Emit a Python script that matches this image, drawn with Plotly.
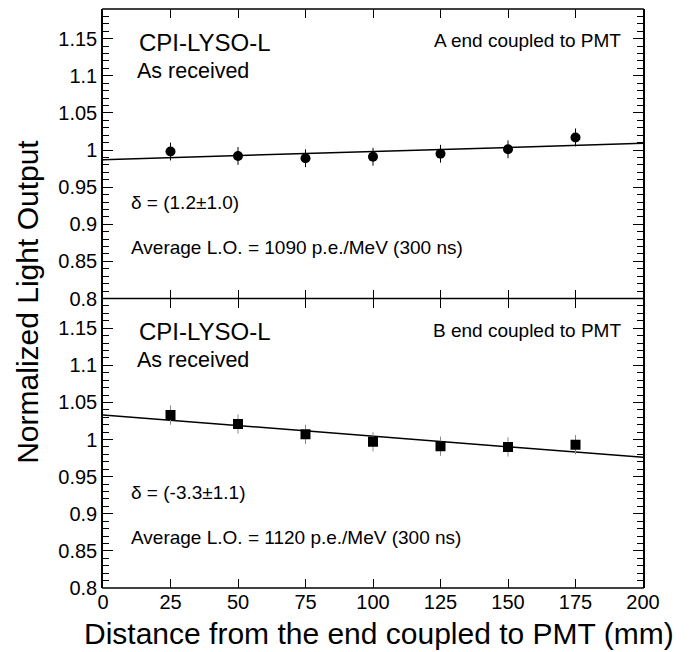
import plotly.graph_objects as go
from plotly.subplots import make_subplots

# Scan positions along the crystal (mm)
distance = [25, 50, 75, 100, 125, 150, 175]

# A end coupled to PMT
lo_a = [0.998, 0.992, 0.989, 0.991, 0.995, 1.001, 1.017]
err_a = [0.012, 0.012, 0.012, 0.012, 0.012, 0.012, 0.012]
fit_x = [0, 200]
fit_a = [0.987, 1.009]

# B end coupled to PMT
lo_b = [1.033, 1.021, 1.007, 0.997, 0.991, 0.990, 0.993]
err_b = [0.013, 0.013, 0.013, 0.013, 0.013, 0.013, 0.013]
fit_b = [1.033, 0.976]

y_ticks = [0.8, 0.85, 0.9, 0.95, 1.0, 1.05, 1.1, 1.15]
y_tick_text = ["0.8", "0.85", "0.9", "0.95", "1", "1.05", "1.1", "1.15"]
x_ticks = [0, 25, 50, 75, 100, 125, 150, 175, 200]

FONT = "Arial, Liberation Sans, sans-serif"

fig = make_subplots(rows=2, cols=1, shared_xaxes=True, vertical_spacing=0)

# Top panel
fig.add_trace(go.Scatter(x=fit_x, y=fit_a, mode="lines",
                         line=dict(color="black", width=1.5),
                         showlegend=False), row=1, col=1)
fig.add_trace(go.Scatter(x=distance, y=lo_a, mode="markers",
                         marker=dict(symbol="circle", size=10, color="black"),
                         error_y=dict(type="data", array=err_a, width=0,
                                      color="black", thickness=1),
                         showlegend=False), row=1, col=1)

# Bottom panel
fig.add_trace(go.Scatter(x=fit_x, y=fit_b, mode="lines",
                         line=dict(color="black", width=1.5),
                         showlegend=False), row=2, col=1)
fig.add_trace(go.Scatter(x=distance, y=lo_b, mode="markers",
                         marker=dict(symbol="square", size=10, color="black"),
                         error_y=dict(type="data", array=err_b, width=0,
                                      color="#8a8a8a", thickness=1),
                         showlegend=False), row=2, col=1)

for r in (1, 2):
    fig.update_xaxes(range=[0, 200], tickvals=x_ticks, ticklen=9, tickwidth=1,
                     ticks="inside", tickcolor="black", mirror="ticks",
                     showline=False, showgrid=False, zeroline=False,
                     tickfont=dict(family=FONT, size=20, color="black"),
                     showticklabels=(r == 2), row=r, col=1)
    fig.update_yaxes(range=[0.8, 1.19], tickvals=y_ticks, ticktext=y_tick_text,
                     ticklen=10, tickwidth=1, ticks="inside", tickcolor="black",
                     showline=True, linecolor="black", linewidth=1.5,
                     mirror="ticks", showgrid=False, zeroline=False,
                     tickfont=dict(family=FONT, size=20, color="black"),
                     minor=dict(dtick=0.01, ticks="inside", ticklen=6,
                                tickcolor="black", tickwidth=1, tick0=0.8),
                     row=r, col=1)

# Horizontal frame edges: top, shared middle, bottom
for yv in (0, 0.5, 1):
    fig.add_shape(type="line", xref="paper", yref="paper",
                  x0=-0.0015, x1=1.0015, y0=yv, y1=yv,
                  line=dict(color="black", width=1.5))

panel_text = [
    ("x", "y", "A end coupled to PMT", "δ = (1.2±1.0)",
     "Average L.O. = 1090 p.e./MeV (300 ns)"),
    ("x2", "y2", "B end coupled to PMT", "δ = (-3.3±1.1)",
     "Average L.O. = 1120 p.e./MeV (300 ns)"),
]
for xr, yr, end_lbl, delta_lbl, avg_lbl in panel_text:
    items = [
        ("CPI-LYSO-L", 12.7, 1.145, "left", 24),
        ("As received", 12.0, 1.107, "left", 21.5),
        (end_lbl, 192.5, 1.147, "right", 19),
        (delta_lbl, 9.8, 0.929, "left", 19),
        (avg_lbl, 9.8, 0.8687, "left", 19),
    ]
    for txt, xv, yv, anchor, size in items:
        fig.add_annotation(x=xv, y=yv, xref=xr, yref=yr, text=txt,
                           showarrow=False, xanchor=anchor, yanchor="middle",
                           font=dict(family=FONT, size=size, color="black"))

# Axis titles
fig.add_annotation(x=-0.14, y=0.495, xref="paper", yref="paper",
                   text="Normalized Light Output", textangle=-90,
                   showarrow=False, xanchor="center", yanchor="middle",
                   font=dict(family=FONT, size=30, color="black"))
fig.add_annotation(x=0.512, y=-0.078, xref="paper", yref="paper",
                   text="Distance from the end coupled to PMT (mm)",
                   showarrow=False, xanchor="center", yanchor="middle",
                   font=dict(family=FONT, size=30, color="black"))

fig.update_layout(width=691, height=652,
                  margin=dict(l=103, r=48, t=9, b=64),
                  plot_bgcolor="white", paper_bgcolor="white",
                  showlegend=False)

fig.write_html("out.html")
